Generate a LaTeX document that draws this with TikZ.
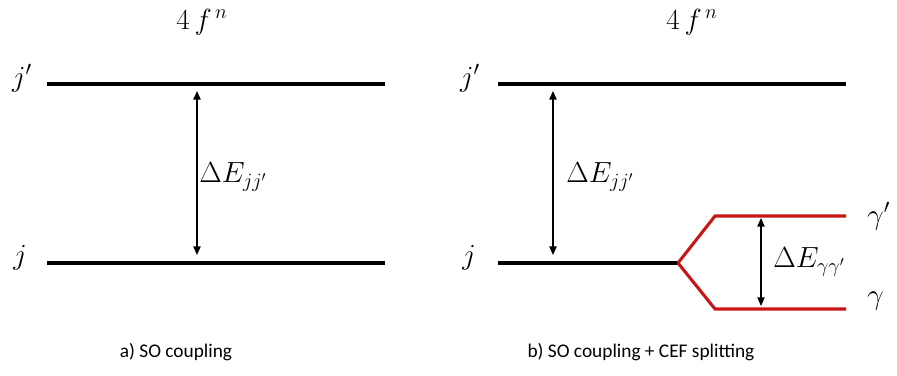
\documentclass[tikz,border=0pt]{standalone}
\usepackage{amsmath,amssymb}
\usepackage{fontspec}
\newfontfamily\capfont{Carlito}
\usetikzlibrary{arrows.meta,positioning}

\begin{document}
\begin{tikzpicture}[x=0.03cm,y=-0.03cm]
\tikzset{
  level/.style={line width=2.6pt},
  split/.style={line width=2.6pt,draw={rgb,255:red,200;green,20;blue,20},line join=miter},
  gap/.style={{Triangle[length=2.6mm,width=2.2mm]}-{Triangle[length=2.6mm,width=2.2mm]},line width=1.2pt},
  lbl/.style={inner sep=1pt,font=\fontsize{26}{28}\selectfont},
  caption/.style={inner sep=1pt,font=\capfont\fontsize{16.5}{18}\selectfont}
}
\useasboundingbox (0,0) rectangle (897,376);
% a) left panel
\node[lbl] (n_ta) at (202,22) {$4\,f^{\,n}$};
\coordinate (a_up0) at (47,84);
\coordinate (a_up1) at (385,84);
\coordinate (a_lo0) at (47,263);
\coordinate (a_lo1) at (385,263);
\node[lbl] (n_ja1) at (22,78) {$j'$};
\node[lbl] (n_ja) at (20,258) {$j$};
\draw[level] (a_up0) -- (a_up1);
\draw[level] (a_lo0) -- (a_lo1);
\coordinate (a_t) at (197,91);
\coordinate (a_b) at (197,255);
\draw[gap] (a_t) -- (a_b);
\node[lbl,anchor=west] (n_da) at (198,177) {$\Delta E_{jj'}$};
\node[caption] (n_ca) at (176,352) {a) SO coupling};
% b) right panel
\node[lbl] (n_tb) at (692,22) {$4\,f^{\,n}$};
\coordinate (b_up0) at (498,84);
\coordinate (b_up1) at (846,84);
\coordinate (b_lo0) at (498,263);
\coordinate (b_fork) at (678,263);
\node[lbl] (n_jb1) at (470,78) {$j'$};
\node[lbl] (n_jb) at (469,258) {$j$};
\draw[level] (b_up0) -- (b_up1);
\draw[level] (b_lo0) -- (b_fork);
\coordinate (b_g1) at (846,216);
\coordinate (b_g0) at (846,309);
\draw[split] (b_fork) -- (715,216) -- (b_g1);
\draw[split] (b_fork) -- (715,309) -- (b_g0);
\coordinate (b_t) at (553,91);
\coordinate (b_b) at (553,255);
\draw[gap] (b_t) -- (b_b);
\node[lbl,anchor=west] (n_db) at (565,177) {$\Delta E_{jj'}$};
\coordinate (c_t) at (761,218);
\coordinate (c_b) at (761,306);
\draw[gap] (c_t) -- (c_b);
\node[lbl,anchor=west] (n_dc) at (772,262) {$\Delta E_{\gamma\gamma'}$};
\node[lbl,anchor=west] (n_g1) at (866,216) {$\gamma'$};
\node[lbl,anchor=west] (n_g0) at (866,301) {$\gamma$};
\node[caption] (n_cb) at (641,352) {b) SO coupling + CEF splitting};
\end{tikzpicture}
\end{document}
